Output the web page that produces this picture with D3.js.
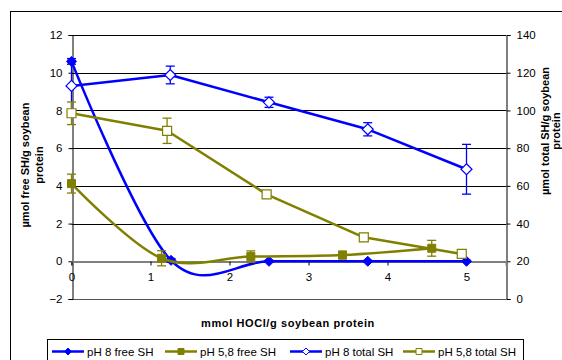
<!DOCTYPE html>
<html>
<head>
<meta charset="utf-8">
<script src="https://cdn.jsdelivr.net/npm/d3@7"></script>
<style>
  html, body { margin: 0; padding: 0; background: #fff; }
  svg { display: block; font-family: "Liberation Sans", Arial, sans-serif; }
</style>
</head>
<body>
<svg id="chart" width="562" height="360"></svg>
<script>
// HOCl dose (mmol/g soybean protein) for each series
const doseFreePH8   = [0, 1.26, 2.5, 3.75, 5];
const freePH8       = [10.6, 0.05, 0, 0, 0];
const freePH8Err    = [0.15, 0.1, 0.05, 0.05, 0.05];

const doseFreePH58  = [0, 1.14, 2.27, 3.43, 4.56];
const freePH58      = [4.12, 0.16, 0.25, 0.33, 0.69];
const freePH58Err   = [0.5, 0.4, 0.3, 0.2, 0.42];

const doseTotalPH8  = [0, 1.25, 2.5, 3.75, 5];
const totalPH8      = [113, 118.8, 104.3, 90, 68.8];
const totalPH8Err   = [13.5, 4.7, 2.7, 3.5, 13.2];

const doseTotalPH58 = [0, 1.21, 2.47, 3.7, 4.94];
const totalPH58     = [98.5, 89.2, 55.5, 32.7, 23.9];
const totalPH58Err  = [6, 6.7, 1.2, 2, 2];

const xTicks      = [0, 1, 2, 3, 4, 5];
const leftTicks   = [-2, 0, 2, 4, 6, 8, 10, 12];
const rightTicks  = [0, 20, 40, 60, 80, 100, 120, 140];

const legendNames = ["pH 8 free SH", "pH 5,8 free SH", "pH 8 total SH", "pH 5,8 total SH"];

const BLUE = "#0000ff", OLIVE = "#808000";

const svg = d3.select("#chart");

const x  = d3.scaleLinear().domain([0, 5.5]).range([71.5, 506]);
const yL = d3.scaleLinear().domain([-2, 12]).range([299, 35]);
const yR = d3.scaleLinear().domain([0, 140]).range([299, 35]);

// outer chart frame
svg.append("rect").attr("x", 10.5).attr("y", 11.5).attr("width", 570).attr("height", 360)
  .attr("fill", "none").attr("stroke", "#000").attr("stroke-width", 1);

// horizontal gridlines
svg.append("g").selectAll("line").data(leftTicks.filter(d => d !== -2 && d !== 0)).join("line")
  .attr("x1", x(0)).attr("x2", x(5.5))
  .attr("y1", d => Math.round(yL(d)) + 0.5).attr("y2", d => Math.round(yL(d)) + 0.5)
  .attr("stroke", "#000").attr("stroke-width", 1);

// bottom of plot area
svg.append("line").attr("x1", x(0)).attr("x2", x(5.5))
  .attr("y1", Math.round(yL(-2)) + 0.5).attr("y2", Math.round(yL(-2)) + 0.5)
  .attr("stroke", "#555").attr("stroke-width", 1);

// left axis
const leftAxis = svg.append("g").attr("transform", `translate(${Math.round(x(0)) + 0.5},0)`)
  .call(d3.axisLeft(yL).tickValues(leftTicks).tickSize(4).tickPadding(6).tickFormat(d3.format("d")));
// right axis
const rightAxis = svg.append("g").attr("transform", `translate(${Math.round(x(5.5)) + 0.5},0)`)
  .call(d3.axisRight(yR).tickValues(rightTicks).tickSize(4).tickPadding(6).tickFormat(d3.format("d")));

[leftAxis, rightAxis].forEach(g => {
  g.select(".domain").attr("stroke", "#000").attr("stroke-width", 1);
  g.selectAll(".tick line").attr("stroke", "#000");
  g.selectAll("text").attr("font-size", 11.5).attr("fill", "#000")
    .attr("font-family", "Liberation Sans, Arial, sans-serif");
});

// x axis at zero level
const xAxis = svg.append("g").attr("transform", `translate(0,${Math.round(yL(0)) + 0.5})`)
  .call(d3.axisBottom(x).tickValues(xTicks).tickSize(4).tickPadding(7).tickFormat(d3.format("d")));
xAxis.select(".domain").attr("stroke", "#808080").attr("stroke-width", 2);
xAxis.selectAll(".tick line").attr("stroke", "#000");
xAxis.selectAll("text").attr("font-size", 11.5).attr("fill", "#000")
  .attr("font-family", "Liberation Sans, Arial, sans-serif");

// axis titles
svg.append("text")
  .attr("transform", "translate(29,165) rotate(-90)")
  .attr("text-anchor", "middle").attr("font-size", 11).attr("font-weight", "bold")
  .selectAll("tspan").data(["µmol free SH/g soybean", "protein"]).join("tspan")
  .attr("x", 0).attr("dy", (d, i) => i === 0 ? 0 : 14).text(d => d);

svg.append("text")
  .attr("transform", "translate(549,131) rotate(-90)")
  .attr("text-anchor", "middle").attr("font-size", 11).attr("font-weight", "bold")
  .selectAll("tspan").data(["µmol total SH/g soybean", "protein"]).join("tspan")
  .attr("x", 0).attr("dy", (d, i) => i === 0 ? 0 : 10.5).text(d => d);

svg.append("text").attr("x", 288).attr("y", 327).attr("text-anchor", "middle")
  .attr("font-size", 11).attr("font-weight", "bold").attr("letter-spacing", 0.6)
  .text("mmol HOCl/g soybean protein");

// series definitions
const series = [
  { xs: doseFreePH8,   ys: freePH8,   err: freePH8Err,   y: yL, color: BLUE,  shape: "diamond", filled: true,  smooth: true },
  { xs: doseFreePH58,  ys: freePH58,  err: freePH58Err,  y: yL, color: OLIVE, shape: "square",  filled: true,  smooth: true },
  { xs: doseTotalPH8,  ys: totalPH8,  err: totalPH8Err,  y: yR, color: BLUE,  shape: "diamond", filled: false, smooth: false },
  { xs: doseTotalPH58, ys: totalPH58, err: totalPH58Err, y: yR, color: OLIVE, shape: "square",  filled: false, smooth: false }
];

function markerPath(shape, filled) {
  if (shape === "diamond") {
    const r = filled ? 5 : 5.5;
    return `M0,${-r}L${r},0L0,${r}L${-r},0Z`;
  }
  const h = filled ? 4 : 4.5;
  return `M${-h},${-h}H${h}V${h}H${-h}Z`;
}

const plot = svg.append("g");

series.forEach(s => {
  const pts = s.xs.map((d, i) => ({ x: d, y: s.ys[i], e: s.err[i] }));
  const g = plot.append("g");
  // error bars
  const eb = g.selectAll("g.eb").data(pts).join("g");
  eb.append("line")
    .attr("x1", d => x(d.x)).attr("x2", d => x(d.x))
    .attr("y1", d => s.y(d.y - d.e)).attr("y2", d => s.y(d.y + d.e))
    .attr("stroke", s.color).attr("stroke-width", 1.3);
  [-1, 1].forEach(sg => {
    eb.append("line")
      .attr("x1", d => x(d.x) - 4.5).attr("x2", d => x(d.x) + 4.5)
      .attr("y1", d => s.y(d.y + sg * d.e)).attr("y2", d => s.y(d.y + sg * d.e))
      .attr("stroke", s.color).attr("stroke-width", 1.3);
  });
  // line
  const line = d3.line().x(d => x(d.x)).y(d => s.y(d.y))
    .curve(s.smooth ? d3.curveCardinal.tension(0) : d3.curveLinear);
  g.append("path").datum(pts).attr("d", line)
    .attr("fill", "none").attr("stroke", s.color).attr("stroke-width", 2.5)
    .attr("stroke-linejoin", "round");
  // markers
  g.selectAll("path.m").data(pts).join("path")
    .attr("transform", d => `translate(${x(d.x)},${s.y(d.y)})`)
    .attr("d", markerPath(s.shape, s.filled))
    .attr("fill", s.filled ? s.color : "#fff")
    .attr("stroke", s.color).attr("stroke-width", s.filled ? 1 : 1.2);
});

// legend
const legend = svg.append("g");
legend.append("rect").attr("x", 47.5).attr("y", 339.5).attr("width", 476).attr("height", 30)
  .attr("fill", "#fff").attr("stroke", "#000").attr("stroke-width", 1);
const legendX = [52, 165, 290, 403];
series.forEach((s, i) => {
  const lg = legend.append("g").attr("transform", `translate(${legendX[i]},351.5)`);
  lg.append("line").attr("x1", 0).attr("x2", 32).attr("y1", 0).attr("y2", 0)
    .attr("stroke", s.color).attr("stroke-width", 2.5);
  lg.append("path").attr("transform", "translate(16,0)")
    .attr("d", s.shape === "diamond" ? "M0,-3.5L3.5,0L0,3.5L-3.5,0Z" : "M-3,-3H3V3H-3Z")
    .attr("fill", s.filled ? s.color : "#fff").attr("stroke", s.color).attr("stroke-width", 1);
  lg.append("text").attr("x", 35).attr("y", 4).attr("font-size", 11.5).attr("fill", "#000")
    .text(legendNames[i]);
});
</script>
</body>
</html>
